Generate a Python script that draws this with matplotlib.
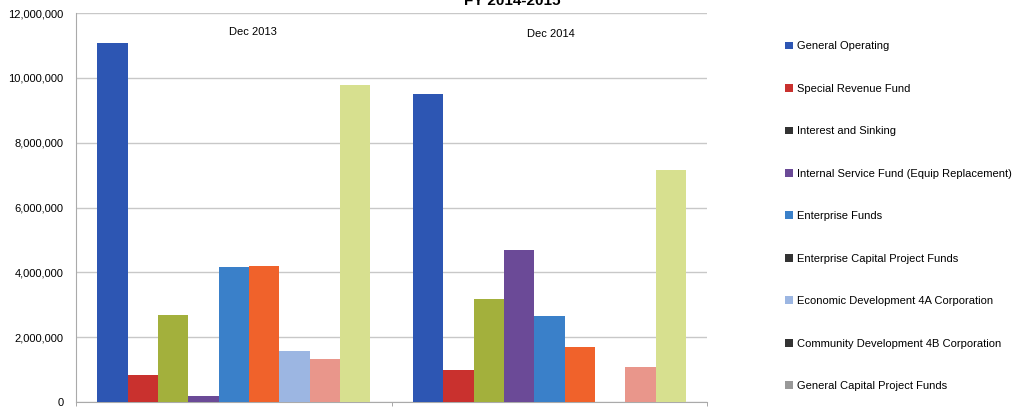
import numpy as np
import matplotlib
matplotlib.use("Agg")
import matplotlib.pyplot as plt
from matplotlib.patches import Patch
from matplotlib.ticker import FuncFormatter

plt.rcParams['font.family'] = ['Liberation Sans', 'DejaVu Sans']

# data
periods = ["Dec 2013", "Dec 2014"]
funds = ["General Operating", "Special Revenue Fund", "Interest and Sinking",
         "Internal Service Fund (Equip Replacement)", "Enterprise Funds",
         "Enterprise Capital Project Funds", "Economic Development 4A Corporation",
         "Community Development 4B Corporation", "General Capital Project Funds"]
dec_2013 = [11070000, 830000, 2680000, 190000, 4170000, 4200000, 1570000, 1330000, 9780000]
dec_2014 = [9500000, 990000, 3180000, 4690000, 2650000, 1700000, 0, 1080000, 7160000]
bar_colors = ["#2d56b3", "#c9312e", "#a3b03c", "#6b4a97", "#3a80c9",
              "#f0622b", "#9cb6e2", "#e9968b", "#d7e08f"]
legend_colors = ["#2d56b3", "#c9312e", "#333333", "#6b4a97", "#3a80c9",
                 "#333333", "#9cb6e2", "#333333", "#999999"]

fig = plt.figure(figsize=(10.18, 4.11), dpi=100)
ax = fig.add_axes([0.0747, 0.022, 0.62, 0.946])

n = len(funds)
width = 0.865 / n
centers = np.arange(len(periods)) + 0.5
values = np.array([dec_2013, dec_2014]).T  # one row per fund
for i in range(n):
    x = centers - 0.865 / 2 + width * (i + 0.5)
    ax.bar(x, values[i], width=width, color=bar_colors[i], linewidth=0, zorder=3)

ax.set_xlim(0, 2)
ax.set_ylim(0, 12000000)
ax.set_yticks(np.arange(0, 12000001, 2000000))
ax.yaxis.set_major_formatter(FuncFormatter(lambda v, p: f"{int(v):,}"))
ax.grid(axis='y', color='#c8c8c8', linewidth=1, zorder=0)
ax.tick_params(axis='y', length=0, labelsize=8, pad=9)
ax.set_xticks([])
ax.set_xticks([0, 1, 2], minor=True)
ax.tick_params(axis='x', which='minor', length=3, color='#999999', direction='out')
for side in ['top', 'right']:
    ax.spines[side].set_visible(False)
for side in ['left', 'bottom']:
    ax.spines[side].set_color('#aaaaaa')

# group labels sit inside the plot
ax.text(0.561, 11420000, periods[0], ha='center', va='center', fontsize=8)
ax.text(1.506, 11360000, periods[1], ha='center', va='center', fontsize=8)

# title is clipped by the top edge, as in the scanned original
fig.text(0.503, 0.988, "FY 2014-2015", ha='center', va='baseline',
         fontsize=11, fontweight='bold')

handles = [Patch(facecolor=c, edgecolor='none') for c in legend_colors]
fig.legend(handles, funds, loc='upper left', bbox_to_anchor=(0.767, 0.910),
           frameon=False, fontsize=8, labelspacing=2.92, handlelength=0.7,
           handleheight=0.7, handletextpad=0.35, borderaxespad=0)

fig.savefig("out.png", dpi=100)
